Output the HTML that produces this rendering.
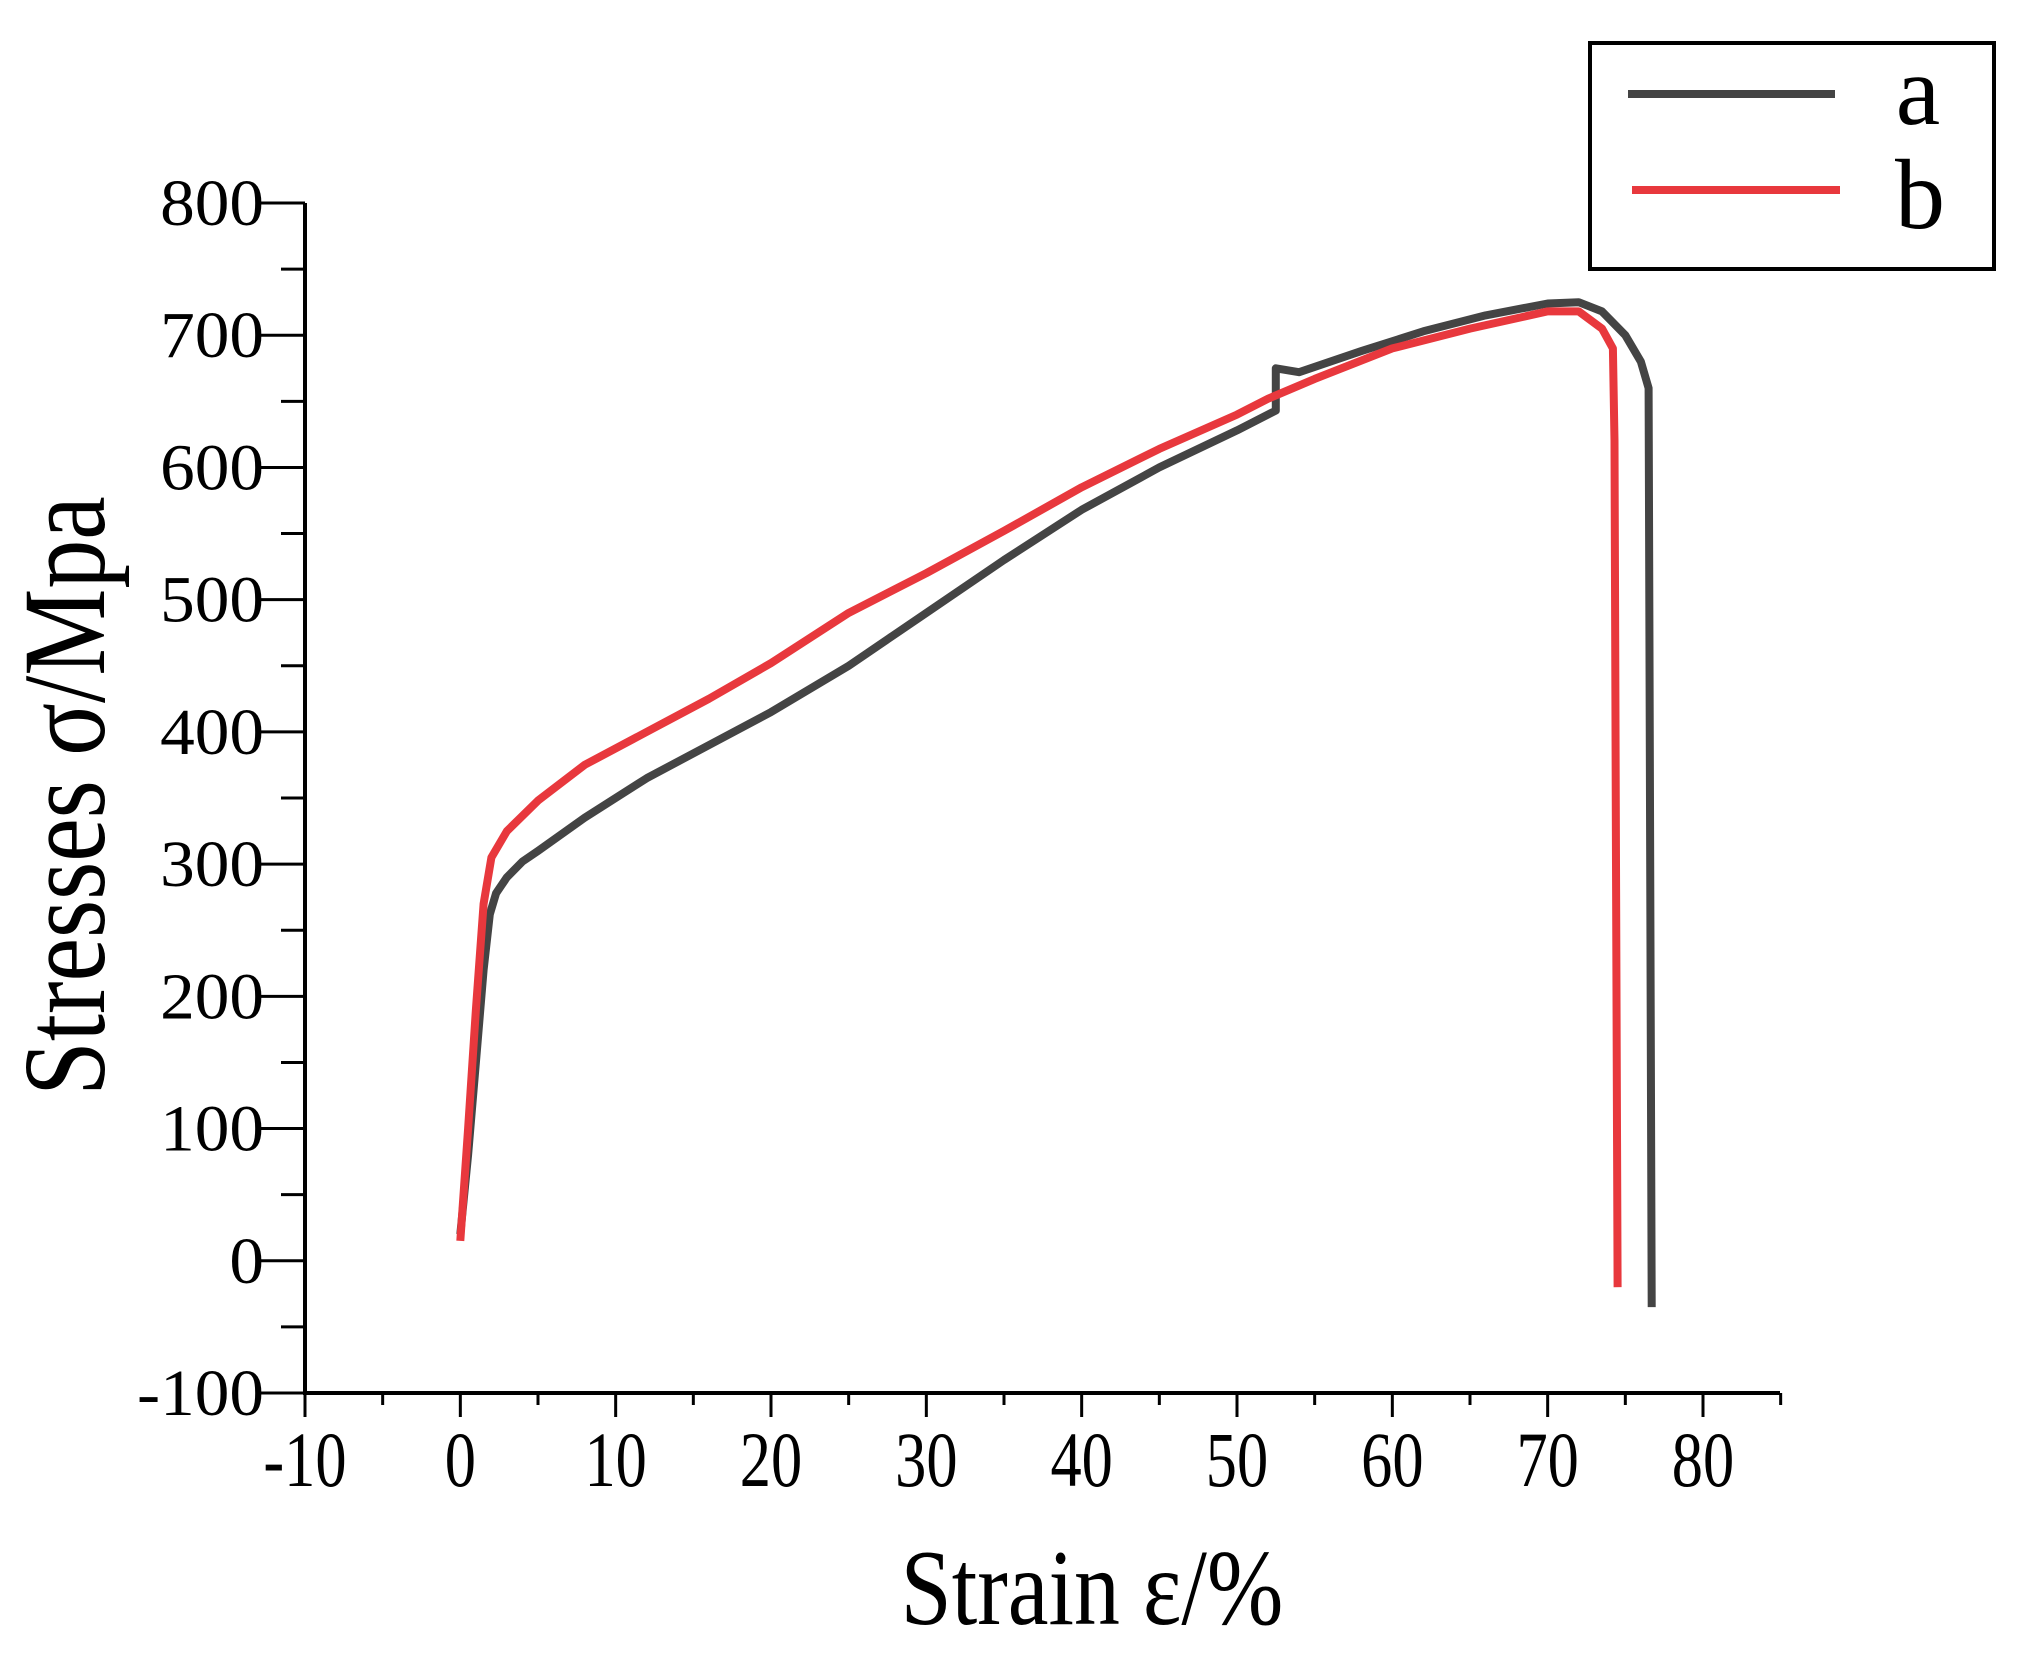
<!DOCTYPE html>
<html><head><meta charset="utf-8"><style>
html,body{margin:0;padding:0;background:#fff;}
svg{display:block;font-family:"Liberation Serif",serif;}
</style></head><body>
<svg width="2026" height="1666" viewBox="0 0 2026 1666" xmlns="http://www.w3.org/2000/svg">
<g id="axes"></g>
<g id="series"></g>
<text transform="translate(104,796) rotate(-90) scale(0.83,1)" text-anchor="middle" font-size="118" fill="#000">Stresses σ/Mpa</text>
<text transform="translate(1092,1624) scale(0.85,1)" text-anchor="middle" font-size="108" fill="#000">Strain ε/%</text>
<g>
<rect x="1590" y="43" width="404" height="226" fill="#fff" stroke="#000" stroke-width="4"/>
<line x1="1628" y1="94" x2="1835" y2="94" stroke="#444" stroke-width="8"/>
<text x="1918" y="124" text-anchor="middle" font-size="100">a</text>
<line x1="1632" y1="190" x2="1840" y2="190" stroke="#e8383d" stroke-width="8"/>
<text x="1920" y="228" text-anchor="middle" font-size="100">b</text>
</g>
</svg>
<script>
const xTicks = [-10,0,10,20,30,40,50,60,70,80];
const yTicks = [-100,0,100,200,300,400,500,600,700,800];
const strainA = [0,0.5,1,1.5,1.9,2.3,3,4,5,8,12,16,20,25,30,35,40,45,50,52.5,52.5,54,58,62,66,70,72,73.5,75,76,76.5,76.6,76.7];
const stressA = [20,80,150,220,262,278,290,302,310,335,365,390,415,450,490,530,568,600,628,643,675,672,688,703,715,724,725,718,700,680,660,300,-35];
const strainB = [0,0.5,1,1.5,2,3,5,8,12,16,20,25,30,35,40,45,50,52,55,60,65,70,72,73.5,74.2,74.3,74.4,74.5];
const stressB = [15,100,190,270,305,325,348,375,400,425,452,490,520,552,585,614,640,652,667,690,705,718,718,705,690,620,300,-20];

const X0=305, X1=1703, Y0=1393, Y1=203;
function sx(v){return X0+(v+10)*(X1-X0)/90;}
function sy(v){return Y0-(v+100)*(Y0-Y1)/900;}
const NS="http://www.w3.org/2000/svg";
function mk(tag,attrs,parent){const e=document.createElementNS(NS,tag);for(const k in attrs)e.setAttribute(k,attrs[k]);parent.appendChild(e);return e;}
const ax=document.getElementById('axes');
let e;
e=mk('line',{x1:X0,y1:Y1,x2:X0,y2:Y0+2,stroke:'#000','stroke-width':4},ax);


e=mk('line',{x1:X0-2,y1:Y0,x2:1780,y2:Y0,stroke:'#000','stroke-width':4},ax);


for(let v=-100;v<=800;v+=50){
  const major=v%100===0;
  e=mk('line',{x1:X0-(major?45:24),y1:sy(v),x2:X0,y2:sy(v),stroke:'#000','stroke-width':3},ax);
  
  
}
yTicks.forEach(v=>{
  e=mk('text',{transform:'translate(264,'+(sy(v)+22)+') scale(1.05,1)','text-anchor':'end','font-size':66},ax);
  e.textContent=String(v);
  
  
});
for(let v=-10;v<=85;v+=5){
  const major=v%10===0;
  e=mk('line',{x1:sx(v),y1:Y0,x2:sx(v),y2:Y0+(major?24:12),stroke:'#000','stroke-width':3},ax);
  
  
}
xTicks.forEach(v=>{
  e=mk('text',{transform:'translate('+sx(v)+',1486) scale(0.8,1)','text-anchor':'middle','font-size':78},ax);
  e.textContent=String(v);
  
  
});
const sg=document.getElementById('series');
function path(xs,ys){return xs.map((x,i)=>(i?'L':'M')+sx(x).toFixed(1)+','+sy(ys[i]).toFixed(1)).join(' ');}
e=mk('path',{d:path(strainA,stressA),fill:'none',stroke:'#444','stroke-width':8,'stroke-linejoin':'round'},sg);


e=mk('path',{d:path(strainB,stressB),fill:'none',stroke:'#e8383d','stroke-width':8,'stroke-linejoin':'round'},sg);


</script>
</body></html>
